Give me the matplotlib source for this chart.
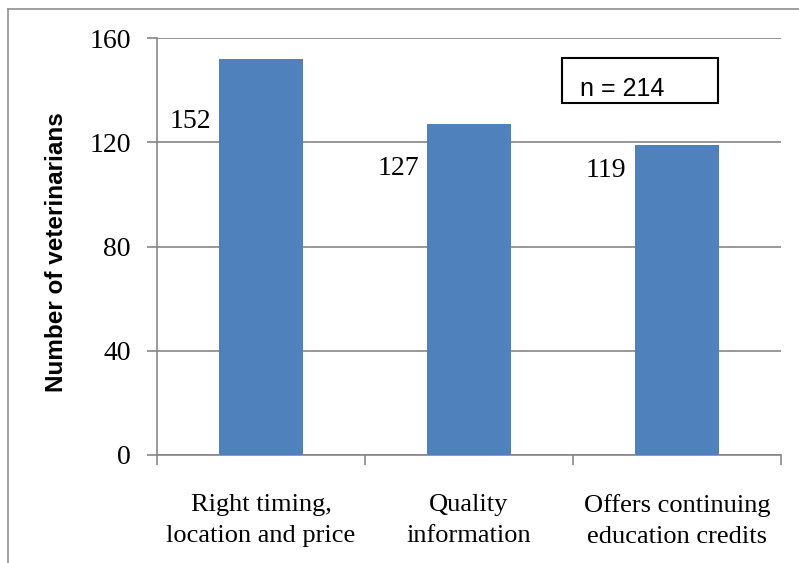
import matplotlib.pyplot as plt
import numpy as np

# 数据
categories = ['Right timing,\nlocation and price', 'Quality\ninformation',
              'Offers continuing\neducation credits']
values = [152, 127, 119]
label_y = [128, 110, 109]   # 数值标签所在高度（图中标签在柱子左侧）
yticks = [0, 40, 80, 120, 160]

bar_color = '#4F81BD'
grid_color = '#868686'

fig = plt.figure(figsize=(7.99, 5.63), dpi=100)
ax = fig.add_axes([157 / 799, 1 - 455 / 563, 624 / 799, 417 / 563])

x = np.arange(len(values))
ax.bar(x, values, width=0.40, color=bar_color, zorder=3)
ax.set_xlim(-0.5, 2.5)
ax.set_ylim(0, 160)

# 网格线和坐标轴
ax.set_yticks(yticks)
ax.yaxis.grid(True, color=grid_color, linewidth=1.2, zorder=0)
for s in ['top', 'right']:
    ax.spines[s].set_visible(False)
for s in ['left', 'bottom']:
    ax.spines[s].set_color(grid_color)
    ax.spines[s].set_linewidth(1.2)

ax.set_xticks([-0.5, 0.5, 1.5, 2.5])
ax.set_xticklabels([])
ax.set_xticks(x, minor=True)
ax.set_xticklabels(categories, minor=True, fontsize=19,
                   family='Liberation Serif', linespacing=1.55)
ax.tick_params(axis='x', which='major', length=7, color=grid_color, width=1.2)
ax.tick_params(axis='x', which='minor', length=0, pad=28)
ax.tick_params(axis='y', length=7, color=grid_color, width=1.2, pad=12)
for t in ax.get_yticklabels():
    t.set_family('Liberation Serif')
    t.set_fontsize(20)

ax.set_ylabel('Number of veterinarians', fontsize=17.5, fontweight='bold',
              family='Liberation Sans')
ax.yaxis.set_label_coords(-0.143, 0.487)

# 数值标签
for xi, v, ly in zip(x, values, label_y):
    ax.text(xi - 0.34, ly, str(v), ha='center', va='center', fontsize=20,
            family='Liberation Serif')

# n = 214 文本框
fig.patches.append(plt.Rectangle((562 / 799, 1 - 103 / 563), 156 / 799, 45 / 563,
                                 transform=fig.transFigure, fill=False,
                                 edgecolor='black', linewidth=1.5))
fig.text(580 / 799, 1 - 89 / 563, 'n = 214', fontsize=18,
         family='Liberation Sans', va='center')

# 外框（只显示上边和左边）
fig.add_artist(plt.Line2D([8 / 799, 1], [1 - 9 / 563, 1 - 9 / 563],
                          transform=fig.transFigure, color='#909090', linewidth=1.2))
fig.add_artist(plt.Line2D([8 / 799, 8 / 799], [0, 1 - 9 / 563],
                          transform=fig.transFigure, color='#909090', linewidth=1.2))

fig.savefig('out.png', dpi=100)
